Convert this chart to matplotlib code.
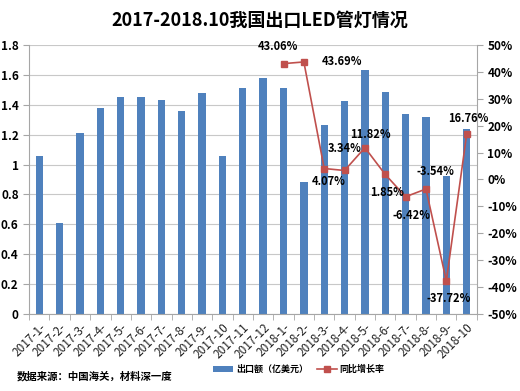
import matplotlib
matplotlib.use("Agg")
import matplotlib.pyplot as plt
import numpy as np
from matplotlib.ticker import FuncFormatter

plt.rcParams['font.family'] = ['Noto Sans CJK SC', 'DejaVu Sans']

months = ["2017-1-", "2017-2-", "2017-3-", "2017-4-", "2017-5-", "2017-6-", "2017-7-",
          "2017-8-", "2017-9-", "2017-10", "2017-11", "2017-12", "2018-1-", "2018-2-",
          "2018-3-", "2018-4-", "2018-5-", "2018-6-", "2018-7-", "2018-8-", "2018-9-", "2018-10"]
export_value = [1.06, 0.61, 1.21, 1.38, 1.455, 1.455, 1.43, 1.36, 1.48, 1.055, 1.51, 1.58,
                1.515, 0.88, 1.265, 1.425, 1.63, 1.485, 1.34, 1.315, 0.92, 1.235]
growth = [None]*12 + [43.06, 43.69, 4.07, 3.34, 11.82, 1.85, -6.42, -3.54, -37.72, 16.76]
growth_labels = ["43.06%", "43.69%", "4.07%", "3.34%", "11.82%", "1.85%", "-6.42%",
                 "-3.54%", "-37.72%", "16.76%"]
label_offsets = [(-4, 8, 'center', 'bottom'), (13, 0, 'left', 'center'),
                 (3, -5, 'center', 'top'), (0, 11, 'center', 'bottom'),
                 (4, 5, 'center', 'bottom'), (1, -8, 'center', 'top'),
                 (4, -9, 'center', 'top'), (7, 8, 'center', 'bottom'),
                 (2, -8, 'center', 'top'), (1, 7, 'center', 'bottom')]

bar_color = '#4F81BD'
line_color = '#C0504D'

fig = plt.figure(figsize=(5.2, 3.91), dpi=100)
ax = fig.add_axes([0.056, 0.197, 0.861, 0.688])
x = np.arange(len(months))
ax.bar(x, export_value, width=0.36, color=bar_color, zorder=2, label='出口额（亿美元）')
ax.set_xlim(-0.5, len(months) - 0.5)
ax.set_ylim(0, 1.8)
ax.set_yticks(np.arange(0, 1.81, 0.2))
ax.yaxis.set_major_formatter(FuncFormatter(lambda v, p: f"{v:g}"))
ax.grid(axis='y', color='#C8C8C8', linewidth=0.8, zorder=0)
for s in ['top', 'right']:
    ax.spines[s].set_visible(False)
ax.spines['left'].set_color('#A6A6A6')
ax.spines['bottom'].set_color('#A6A6A6')
ax.set_xticks(x)
ax.set_xticklabels(months, rotation=45, ha='right', rotation_mode='anchor',
                   fontsize=8.5, color='#222222')
ax.tick_params(axis='x', length=0, pad=5)
ax.set_xticks(np.arange(-0.5, len(months), 1), minor=True)
ax.tick_params(axis='x', which='minor', length=4, color='#A6A6A6')
ax.tick_params(axis='y', labelsize=8.5, length=4, color='#A6A6A6')
for t in ax.get_yticklabels():
    t.set_fontweight('bold')

ax2 = ax.twinx()
ax2.set_ylim(-50, 50)
ax2.set_yticks(np.arange(-50, 51, 10))
ax2.yaxis.set_major_formatter(FuncFormatter(lambda v, p: f"{int(v)}%"))
for s in ['top', 'left', 'bottom']:
    ax2.spines[s].set_visible(False)
ax2.spines['right'].set_color('#A6A6A6')
ax2.tick_params(axis='y', labelsize=8.5, length=4, color='#A6A6A6')
for t in ax2.get_yticklabels():
    t.set_fontweight('bold')

gx = [i for i, g in enumerate(growth) if g is not None]
gy = [g for g in growth if g is not None]
ax2.plot(gx, gy, color=line_color, marker='s', markersize=4, linewidth=1.2,
         label='同比增长率', zorder=3)
for xi, yi, lab, (dx, dy, ha, va) in zip(gx, gy, growth_labels, label_offsets):
    ax2.annotate(lab, (xi, yi), xytext=(dx, dy), textcoords='offset points',
                 ha=ha, va=va, fontsize=8, fontweight='bold', color='#000000', zorder=4)

fig.suptitle('2017-2018.10我国出口LED管灯情况', fontsize=13, fontweight='bold', y=0.972)

h1, l1 = ax.get_legend_handles_labels()
h2, l2 = ax2.get_legend_handles_labels()
fig.legend(h1 + h2, l1 + l2, loc='center', bbox_to_anchor=(0.575, 0.055), ncol=2,
           frameon=False, handlelength=2.2, columnspacing=1.0, handletextpad=0.3,
           prop={'weight': 'bold', 'size': 6.5})
fig.text(0.032, 0.03, '数据来源：中国海关，材料深一度', fontsize=7.5, fontweight='bold')

fig.savefig('out.png', dpi=100)
